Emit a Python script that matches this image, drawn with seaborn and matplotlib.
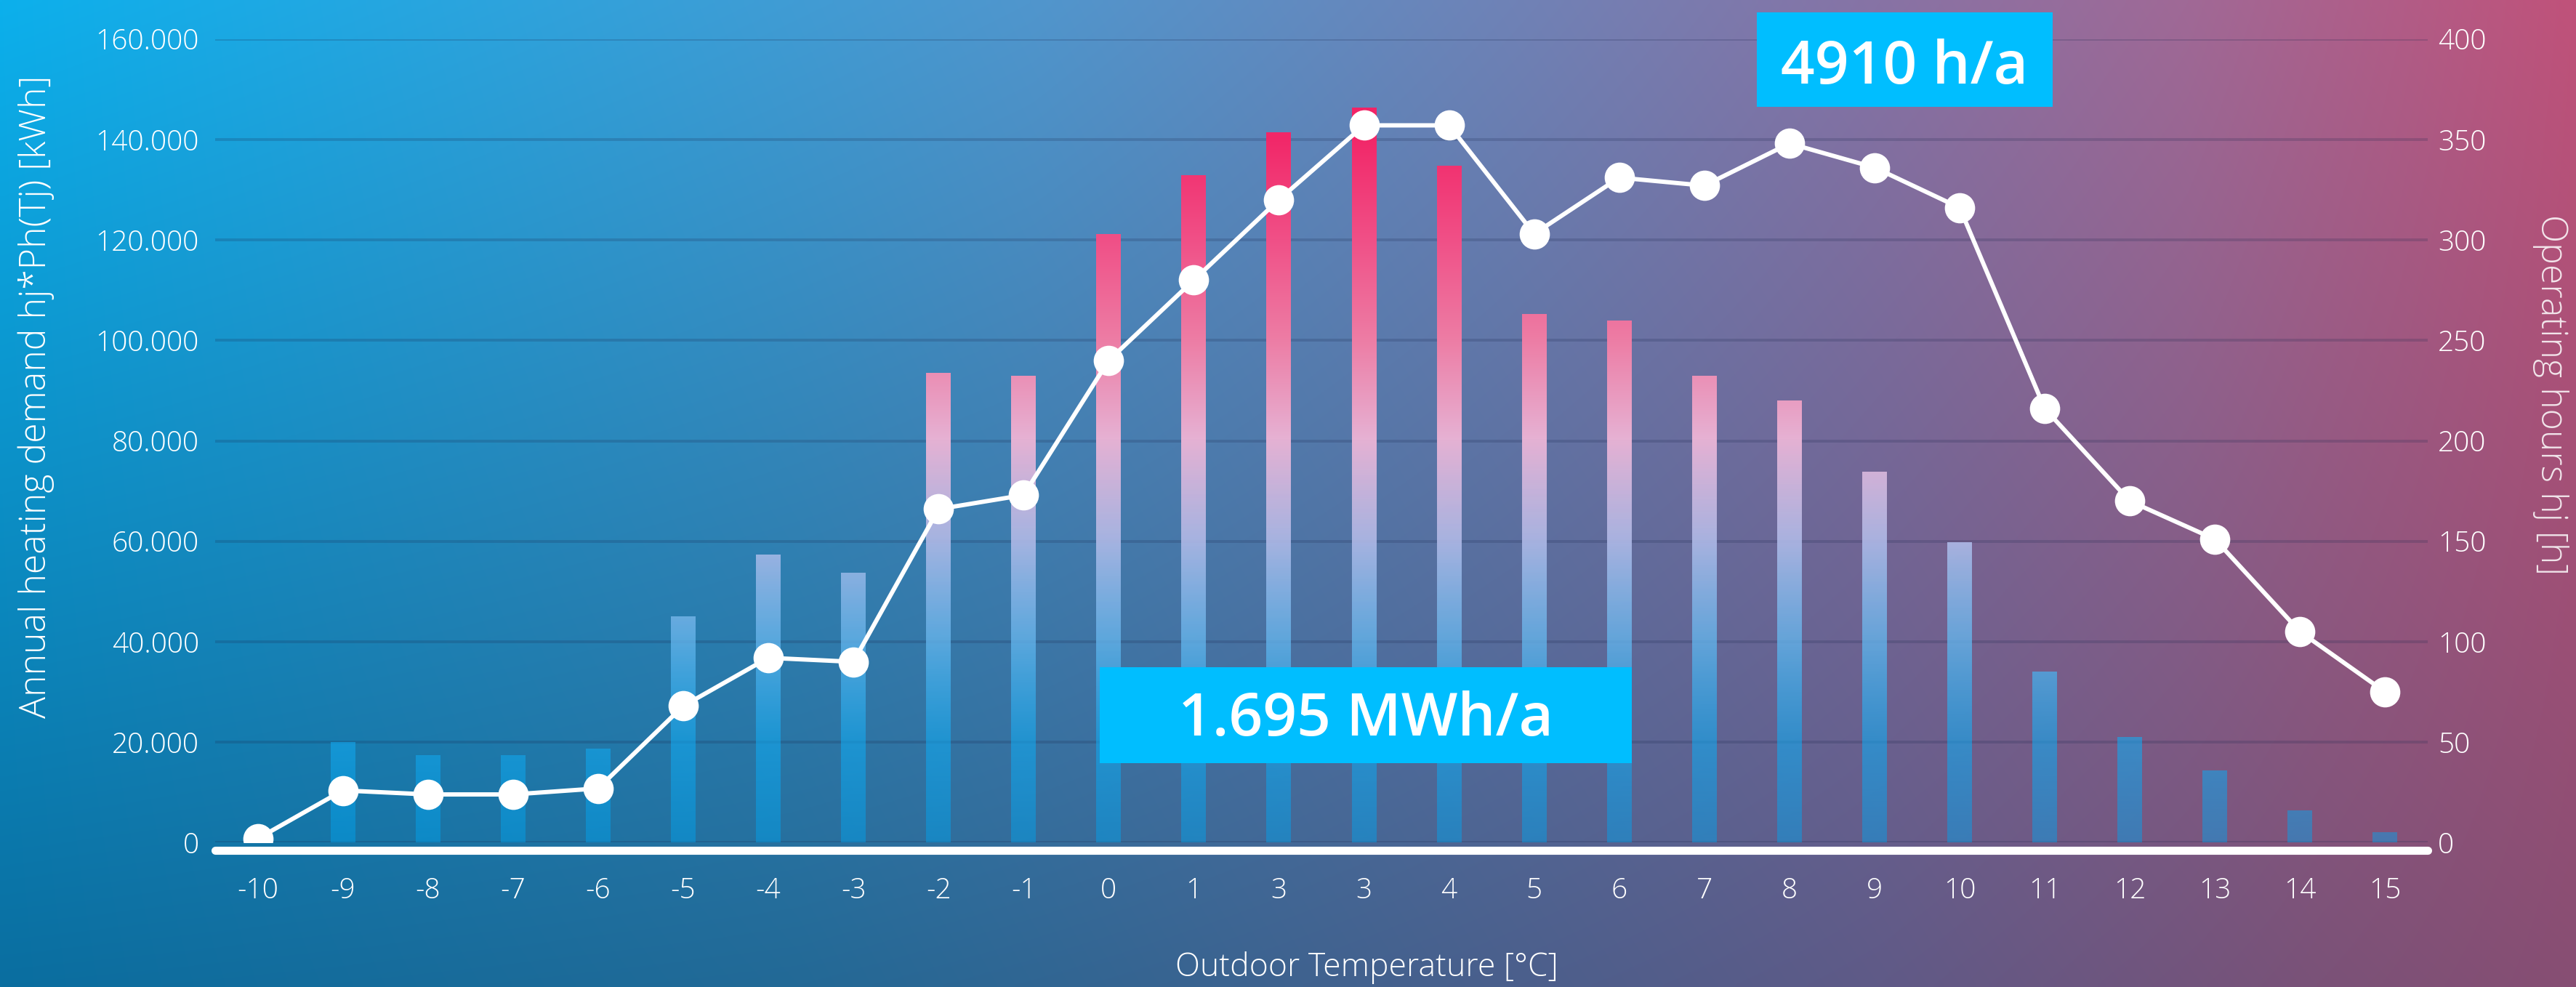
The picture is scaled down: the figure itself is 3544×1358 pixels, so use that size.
import numpy as np
import pandas as pd
import matplotlib
matplotlib.use("Agg")
import matplotlib.pyplot as plt
import seaborn as sns
from matplotlib.patches import Rectangle

# ---------------- data ----------------
temp_labels = ["-10", "-9", "-8", "-7", "-6", "-5", "-4", "-3", "-2", "-1",
               "0", "1", "3", "3", "4", "5", "6", "7", "8", "9",
               "10", "11", "12", "13", "14", "15"]
demand_kwh = [0, 20000, 17400, 17400, 18700, 45100, 57400, 53700, 93600, 92900,
              121200, 132900, 141400, 146400, 134800, 105200, 104000, 92900, 88000, 73900,
              59800, 34000, 21000, 14400, 6400, 2100]
hours = [2, 26, 24, 24, 27, 68, 92, 90, 166, 173,
         240, 280, 320, 357, 357, 303, 331, 327, 348, 336,
         316, 216, 170, 151, 105, 75]
left_ticks = [0, 20000, 40000, 60000, 80000, 100000, 120000, 140000, 160000]
left_tick_labels = ["0", "20.000", "40.000", "60.000", "80.000",
                    "100.000", "120.000", "140.000", "160.000"]
right_ticks = [0, 50, 100, 150, 200, 250, 300, 350, 400]
right_tick_labels = ["0", "50", "100", "150", "200", "250", "300", "350", "400"]
total_energy_text = "1.695 MWh/a"
total_hours_text = "4910 h/a"
left_label = "Annual heating demand hj*Ph(Tj) [kWh]"
right_label = "Operating hours hj [h]"
bottom_label = "Outdoor Temperature [°C]"

# ---------------- setup ----------------
W, H, DPI = 3544, 1358, 100
sns.set_style("white")
plt.rcParams["font.family"] = ["Open Sans", "DejaVu Sans"]

fig = plt.figure(figsize=(W / DPI, H / DPI), dpi=DPI)

# background gradient
nx, ny = 520, 200
xs = np.linspace(0, 1, nx)
top_x = [0.0, 0.40, 0.73, 0.85, 1.0]
top_c = np.array([[12, 176, 236], [80, 150, 205], [135, 115, 165], [160, 105, 150], [192, 82, 122]])
bot_x = [0.0, 0.31, 0.73, 0.90, 1.0]
bot_c = np.array([[10, 110, 160], [35, 105, 150], [95, 90, 135], [122, 82, 120], [135, 78, 115]])
top_row = np.stack([np.interp(xs, top_x, top_c[:, k]) for k in range(3)], axis=-1)
bot_row = np.stack([np.interp(xs, bot_x, bot_c[:, k]) for k in range(3)], axis=-1)
t = np.linspace(0, 1, ny)[:, None, None]
bg = (top_row[None, :, :] * (1 - t) + bot_row[None, :, :] * t) / 255.0
bg_ax = fig.add_axes([0, 0, 1, 1], zorder=-5)
bg_ax.imshow(bg, aspect="auto", extent=[0, 1, 0, 1], interpolation="bilinear", origin="upper")
bg_ax.set_axis_off()

# main axes
ax_left, ax_right = 296, 3340
ax_top, ax_bottom = 53.6, 1159.4
ax = fig.add_axes([ax_left / W, 1 - ax_bottom / H, (ax_right - ax_left) / W, (ax_bottom - ax_top) / H])
ax.patch.set_visible(False)

df = pd.DataFrame({"pos": np.arange(len(temp_labels)), "demand": demand_kwh})
sns.barplot(data=df, x="pos", y="demand", ax=ax, width=0.29, color="#3399cc",
            errorbar=None, zorder=2)

# vertical gradient for bars (by absolute value)
g_vals = np.array([0, 20, 40, 60, 80, 100, 120, 140, 160]) * 1000
g_r = [0, 20, 100, 175, 230, 237, 240, 242, 243]
g_g = [165, 170, 180, 185, 178, 125, 80, 40, 25]
g_b = [240, 240, 235, 230, 212, 165, 135, 105, 95]
g_a = [0.45, 0.6, 0.8, 0.92, 1, 1, 1, 1, 1]
yy = np.linspace(0, 160000, 400)
grad = np.stack([np.interp(yy, g_vals, g_r) / 255, np.interp(yy, g_vals, g_g) / 255,
                 np.interp(yy, g_vals, g_b) / 255, np.interp(yy, g_vals, g_a)], axis=-1)[:, None, :]

for p in list(ax.patches):
    p.set_facecolor("none")
    p.set_edgecolor("none")
    if p.get_height() <= 0:
        continue
    x0 = p.get_x()
    x1 = x0 + p.get_width()
    im = ax.imshow(grad, extent=[x0, x1, 0, 160000], origin="lower", aspect="auto",
                   interpolation="bilinear", zorder=2)
    im.set_clip_path(p)

ax.set_xlim(-0.5, len(temp_labels) - 0.5)
ax.set_ylim(0, 160000)
ax.set_yticks(left_ticks)
ax.set_yticklabels(left_tick_labels, fontsize=28, color="white", fontweight="light")
ax.set_xticks(np.arange(len(temp_labels)))
ax.set_xticklabels(temp_labels, fontsize=28, color="white", fontweight="light")
ax.tick_params(axis="y", length=0, pad=16)
ax.tick_params(axis="x", length=0, pad=34)
ax.set_xlabel("")
ax.set_ylabel("")
ax.set_axisbelow(True)
ax.yaxis.grid(True, color=(0.1, 0.15, 0.3), alpha=0.2, linewidth=2.8)
ax.xaxis.grid(False)
for s in ax.spines.values():
    s.set_visible(False)

# white base line
ax.axhline(-1600, color="white", linewidth=8, clip_on=False, zorder=6)

# secondary axis with line
ax2 = ax.twinx()
sns.lineplot(x=np.arange(len(hours)), y=hours, ax=ax2, color="white", linewidth=4.3,
             marker="o", markersize=30, markeredgewidth=0, zorder=7)
ax2.set_ylim(0, 400)
ax2.set_yticks(right_ticks)
ax2.set_yticklabels(right_tick_labels, fontsize=28, color="white", fontweight="light")
ax2.tick_params(axis="y", length=0, pad=10)
ax2.set_xlim(-0.5, len(temp_labels) - 0.5)
ax2.grid(False)
for s in ax2.spines.values():
    s.set_visible(False)

# axis titles
fig.text(50 / W, 1 - 546 / H, left_label, rotation=90, ha="center", va="center",
         fontsize=36, color="white", fontweight="light")
fig.text(3509 / W, 1 - 543 / H, right_label, rotation=270, ha="center", va="center",
         fontsize=36, color="white", alpha=0.85, fontweight="light")
fig.text(1880 / W, 1 - 1332 / H, bottom_label, ha="center", va="center",
         fontsize=32, color="white", fontweight="light")

# annotation boxes
box_color = "#00BEFF"
fig.add_artist(Rectangle((1513 / W, 1 - 1050 / H), (2245 - 1513) / W, (1050 - 918) / H,
                         transform=fig.transFigure, facecolor=box_color, edgecolor="none", zorder=10))
fig.text(1879 / W, 1 - 1011.7 / H, total_energy_text, ha="center", va="baseline",
         fontsize=59, color="white", fontweight="semibold", zorder=11)
fig.add_artist(Rectangle((2417 / W, 1 - 147 / H), (2824 - 2417) / W, (147 - 17) / H,
                         transform=fig.transFigure, facecolor=box_color, edgecolor="none", zorder=10))
fig.text(2620 / W, 1 - 114.8 / H, total_hours_text, ha="center", va="baseline",
         fontsize=59, color="white", fontweight="semibold", zorder=11)

fig.savefig("out.png", dpi=DPI)
